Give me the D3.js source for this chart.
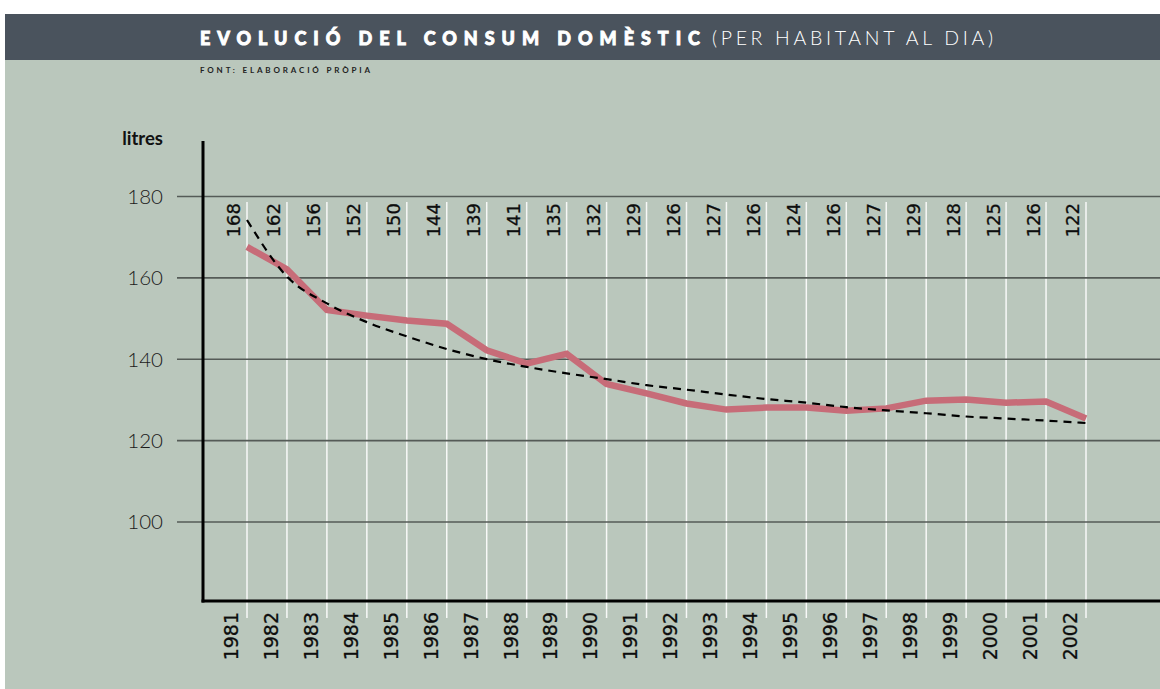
<!DOCTYPE html>
<html>
<head>
<meta charset="utf-8">
<script src="https://cdn.jsdelivr.net/npm/d3@7"></script>
<style>
  html, body { margin: 0; padding: 0; background: #ffffff; }
  svg { display: block; }
  .ytick text { font-family: Lato, "Open Sans", sans-serif; font-weight: 300; font-size: 20.5px; fill: #1a1a1a; }
  .val, .year { font-family: "DejaVu Sans", sans-serif; fill: #0d0d0d; }
</style>
</head>
<body>
<svg id="svg1" width="1160" height="689"></svg>
<script>
// anys
var anys = [1981, 1982, 1983, 1984, 1985, 1986, 1987, 1988, 1989, 1990, 1991,
            1992, 1993, 1994, 1995, 1996, 1997, 1998, 1999, 2000, 2001, 2002];
// values printed at the top of each column
var etiquetes = [168, 162, 156, 152, 150, 144, 139, 141, 135, 132, 129,
                 126, 127, 126, 124, 126, 127, 129, 128, 125, 126, 122];
// pink line as drawn
var consum = [167.5, 162, 152, 150.6, 149.4, 148.6, 142.1, 138.8, 141.2, 133.8, 131.5,
              129.0, 127.5, 128.0, 128.0, 127.2, 127.8, 129.7, 130.0, 129.2, 129.5, 125.3];
// dashed trend line
var tendencia = [174.1, 160.2, 153.6, 149.0, 145.5, 142.4, 139.9, 138.0, 136.4, 135.0, 133.5,
                 132.4, 131.2, 130.1, 129.2, 128.1, 127.3, 126.6, 125.8, 125.3, 124.8, 124.2];
var yTicks = [100, 120, 140, 160, 180];

var titol = "EVOLUCIÓ DEL CONSUM DOMÈSTIC";
var subtitol = "(PER HABITANT AL DIA)";
var font = "FONT: ELABORACIÓ PRÒPIA";

var params = {
  "svg": { "width": 1160, "height": 689 },
  "panel": { "x": 5, "top": 14, "bar": 60 },
  "plot": { "left": 203, "top": 141, "bottom": 601, "right": 1160 }
};

var scale = {
  "x": d3.scaleLinear().domain([1981, 2002]).range([247, 1086]),
  "y": d3.scaleLinear().domain([100, 180]).range([521.5, 196])
};

var svg = d3.select("#svg1");

// background panels
svg.append("rect")
  .attr("x", params.panel.x).attr("y", params.panel.top)
  .attr("width", params.svg.width - params.panel.x)
  .attr("height", params.svg.height - params.panel.top)
  .attr("fill", "#bac7bc");

svg.append("rect")
  .attr("x", params.panel.x).attr("y", params.panel.top)
  .attr("width", params.svg.width - params.panel.x)
  .attr("height", params.panel.bar - params.panel.top)
  .attr("fill", "#4a535d");

// title
svg.append("text")
  .attr("x", 200).attr("y", 45)
  .attr("textLength", 500).attr("lengthAdjust", "spacing")
  .style("font-family", "Lato, sans-serif").style("font-weight", 900)
  .style("font-size", "18px").style("fill", "#ffffff")
  .style("stroke", "#ffffff").style("stroke-width", 0.9)
  .text(titol);

svg.append("text")
  .attr("x", 712).attr("y", 45)
  .attr("textLength", 281).attr("lengthAdjust", "spacing")
  .style("font-family", "Lato, sans-serif").style("font-weight", 300)
  .style("font-size", "19.5px").style("fill", "#ffffff")
  .text(subtitol);

svg.append("text")
  .attr("x", 200).attr("y", 73)
  .attr("textLength", 170).attr("lengthAdjust", "spacing")
  .style("font-family", "Lato, sans-serif").style("font-weight", 700)
  .style("font-size", "8px").style("fill", "#222")
  .text(font);

// white column lines
svg.append("g").selectAll("line")
  .data(anys)
  .enter()
  .append("line")
  .attr("x1", function(d) { return scale.x(d); })
  .attr("x2", function(d) { return scale.x(d); })
  .attr("y1", 202)
  .attr("y2", 618)
  .attr("stroke", "#ffffff")
  .attr("stroke-width", 1.5)
  .attr("opacity", 0.9);

// y axis with grid lines
var gy = svg.append("g")
  .attr("class", "ytick")
  .attr("transform", "translate(177,0)")
  .call(d3.axisLeft(scale.y)
    .tickValues(yTicks)
    .tickSizeInner(-(params.plot.right - 177))
    .tickSizeOuter(0)
    .tickPadding(14));
gy.select(".domain").remove();
gy.selectAll(".tick line").attr("stroke", "#555b57").attr("stroke-width", 1.6);
gy.selectAll(".tick text").attr("dy", "0.36em");

svg.append("text")
  .attr("x", 163).attr("y", 145)
  .attr("text-anchor", "end")
  .style("font-family", "Lato, sans-serif").style("font-weight", 700)
  .style("font-size", "18.5px").style("fill", "#111")
  .text("litres");

// black axes
svg.append("line")
  .attr("x1", params.plot.left).attr("x2", params.plot.left)
  .attr("y1", params.plot.top).attr("y2", params.plot.bottom + 1.5)
  .attr("stroke", "#000").attr("stroke-width", 3);
svg.append("line")
  .attr("x1", params.plot.left - 1.5).attr("x2", params.plot.right)
  .attr("y1", params.plot.bottom).attr("y2", params.plot.bottom)
  .attr("stroke", "#000").attr("stroke-width", 3);

// consumption line
var line = d3.line()
  .x(function(d, i) { return scale.x(anys[i]); })
  .y(function(d) { return scale.y(d); });

svg.append("path")
  .datum(consum)
  .attr("d", line)
  .attr("fill", "none")
  .attr("stroke", "#c76c78")
  .attr("stroke-width", 6.5)
  .attr("stroke-linejoin", "miter");

// trend line (dashed)
svg.append("path")
  .datum(tendencia)
  .attr("d", line.curve(d3.curveMonotoneX))
  .attr("fill", "none")
  .attr("stroke", "#000")
  .attr("stroke-width", 2.2)
  .attr("stroke-dasharray", "8,6");

// value labels
svg.append("g").selectAll("text")
  .data(etiquetes)
  .enter()
  .append("text")
  .attr("class", "val")
  .attr("transform", function(d, i) {
    return "translate(" + (scale.x(anys[i]) - 13) + ",203) rotate(-90)";
  })
  .attr("text-anchor", "end")
  .attr("dy", "0.36em")
  .style("font-size", "18px")
  .style("stroke", "#0d0d0d").style("stroke-width", 0.3)
  .text(function(d) { return d; });

// year labels
svg.append("g").selectAll("text")
  .data(anys)
  .enter()
  .append("text")
  .attr("class", "year")
  .attr("transform", function(d) {
    return "translate(" + (scale.x(d) - 16) + ",612) rotate(-90)";
  })
  .attr("text-anchor", "end")
  .attr("dy", "0.36em")
  .style("font-size", "19px")
  .style("stroke", "#0d0d0d").style("stroke-width", 0.3)
  .text(function(d) { return d; });
</script>
</body>
</html>
